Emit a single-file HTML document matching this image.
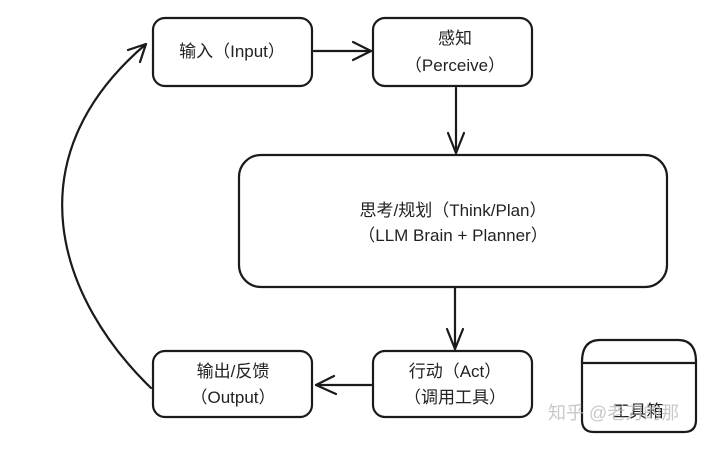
<!DOCTYPE html>
<html><head><meta charset="utf-8"><style>
html,body{margin:0;padding:0;background:#fff;}
svg text{font-family:"Liberation Sans","Noto Sans CJK SC",sans-serif;fill:#222;}
</style></head><body>
<svg width="720" height="445" viewBox="0 0 720 445" xmlns="http://www.w3.org/2000/svg">
<g fill="none" stroke="#1a1a1a" stroke-width="2.2" stroke-linecap="round" stroke-linejoin="round">
<rect x="153" y="18" width="159" height="68" rx="12"/>
<rect x="373" y="18" width="159" height="68" rx="12"/>
<rect x="239" y="155" width="428" height="132" rx="22"/>
<rect x="373" y="351" width="159" height="66" rx="12"/>
<rect x="153" y="351" width="159" height="66" rx="12"/>
<path d="M582 362 Q582 340 600 340 L678 340 Q696 340 696 362 L696 420 Q696 432 684 432 L594 432 Q582 432 582 420 Z"/>
<line x1="582" y1="363" x2="696" y2="363"/>
<line x1="314" y1="51" x2="371" y2="51"/>
<path d="M353 42 L371 51 L353 60"/>
<line x1="456" y1="88" x2="456" y2="153"/>
<path d="M448 133 L456 153 L464 133"/>
<line x1="455" y1="288" x2="455" y2="349"/>
<path d="M447 329 L455 349 L463 329"/>
<line x1="371" y1="385" x2="316" y2="385"/>
<path d="M334 376 L316 385 L336 394"/>
<path d="M151 388 C60 300 10 160 146 44"/>
<path d="M128 50 L146 44 L140 62"/>
</g>
<g font-size="17" text-anchor="middle">
<text x="232" y="57">输入（Input）</text>
<text x="455" y="44">感知</text>
<text x="455" y="71">（Perceive）</text>
<text x="453" y="216">思考/规划（Think/Plan）</text>
<text x="453" y="241">（LLM Brain + Planner）</text>
<text x="455" y="377">行动（Act）</text>
<text x="455" y="403">（调用工具）</text>
<text x="233" y="377">输出/反馈</text>
<text x="233" y="403">（Output）</text>
<text x="638" y="417">工具箱</text>
</g>
<text x="548" y="419" font-size="18" style="fill:#bbb" opacity="0.8">知乎 @老刀的那</text>
</svg>
</body></html>
